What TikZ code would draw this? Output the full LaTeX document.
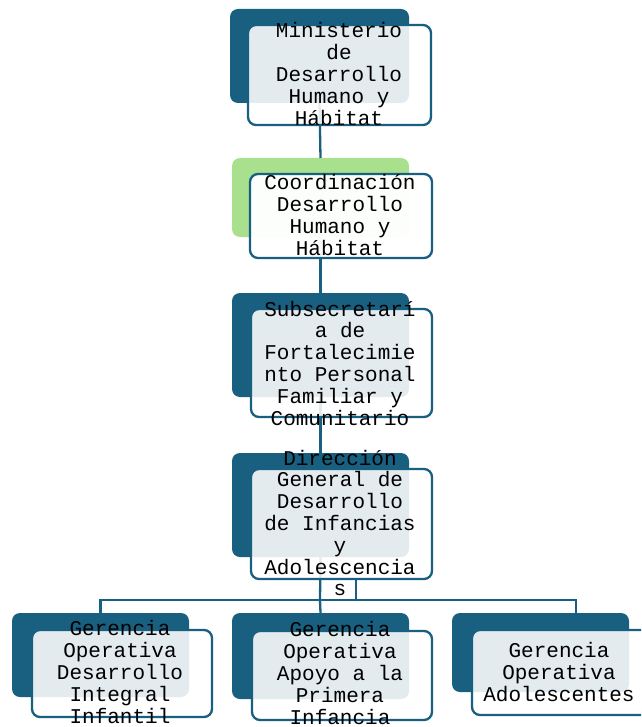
\documentclass[tikz,border=0pt]{standalone}
\usepackage{fontspec}
\setmonofont{Liberation Mono}
\definecolor{dblue}{RGB}{25,95,128}
\definecolor{lgreen}{RGB}{168,224,142}
\begin{document}
\begin{tikzpicture}[x=1pt,y=-1pt,
  back/.style={fill=dblue, rounded corners=8pt, inner sep=0pt, outer sep=0pt, anchor=north west},
  backg/.style={back, fill=lgreen},
  front/.style={draw=dblue, line width=2.3pt, fill=white, fill opacity=0.88, rounded corners=8pt, inner sep=0pt, outer sep=0pt, anchor=north west},
  lbl/.style={font=\ttfamily\fontsize{21}{21.8}\selectfont, align=center, inner sep=0pt, text=black},
  conn/.style={draw=dblue, line width=2.3pt}]
\useasboundingbox (0,0) rectangle (641,727);
\clip (0,0) rectangle (641,727);
% back boxes
\node[back, minimum width=179pt, minimum height=94pt] (d1) at (230,9) {};
\node[backg, minimum width=177pt, minimum height=79pt] (d2) at (232,158) {};
\node[back, minimum width=177pt, minimum height=104pt] (d3) at (232,293) {};
\node[back, minimum width=177pt, minimum height=104pt] (d4) at (232,453) {};
\node[back, minimum width=177pt, minimum height=84pt] (c1) at (12,613) {};
\node[back, minimum width=177pt, minimum height=86pt] (c2) at (232,613) {};
\node[back, minimum width=177pt, minimum height=79pt] (c3) at (452,613) {};
% connectors
\coordinate (bus) at (320,600);
\coordinate (c3in) at (576,613);
\draw[conn] (d1.south) -- (d2.north);
\draw[conn] (d2.south) -- (d3.north);
\draw[conn] (d3.south) -- (d4.north);
\draw[conn] (d4.south) -- (bus);
\draw[conn] (bus) -| (c1.north);
\draw[conn] (bus) -- (c2.north);
\draw[conn] (bus) -| (c3in);
\coordinate (sa) at (356,579);
\coordinate (sb) at (356,600);
\draw[conn] (sa) -- (sb);
% front boxes
\node[front, minimum width=183pt, minimum height=100pt] (f1) at (248,25) {};
\node[front, fill opacity=0.97, minimum width=182pt, minimum height=84pt] (f2) at (250,174) {};
\node[front, minimum width=181pt, minimum height=108pt] (f3) at (251,309) {};
\node[front, minimum width=181pt, minimum height=110pt] (f4) at (251,469) {};
\node[front, minimum width=180pt, minimum height=87pt] (fc1) at (32,630) {};
\node[front, minimum width=180pt, minimum height=89pt] (fc2) at (252,631) {};
\node[front, minimum width=180pt, minimum height=85pt] (fc3) at (472,630) {};
% texts
\node[lbl] (t1) at (339,74) {Ministerio\\de\\Desarrollo\\Humano y\\Hábitat};
\node[lbl] (t2) at (340,215) {Coordinación\\Desarrollo\\Humano y\\Hábitat};
\node[lbl] (t3) at (340,363) {Subsecretarí\\a de\\Fortalecimie\\nto Personal\\Familiar y\\Comunitario};
\node[lbl] (t4) at (340,523) {Dirección\\General de\\Desarrollo\\de Infancias\\y\\Adolescencia\\s};
\node[lbl] (tc1) at (120,672) {Gerencia\\Operativa\\Desarrollo\\Integral\\Infantil};
\node[lbl] (tc2) at (340,673) {Gerencia\\Operativa\\Apoyo a la\\Primera\\Infancia};
\node[lbl] (tc3) at (559,672) {Gerencia\\Operativa\\Adolescentes};
\end{tikzpicture}
\end{document}
